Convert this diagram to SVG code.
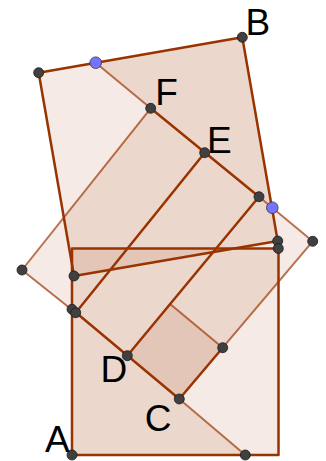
<svg xmlns="http://www.w3.org/2000/svg" width="326" height="461" viewBox="0 0 326 461">
<style>
.fill{fill:#993300;fill-opacity:0.1;stroke:none}
.dk{stroke:#993300;stroke-width:2.5;fill:none;stroke-linecap:round;stroke-linejoin:round}
.lt{stroke:#993300;stroke-opacity:0.68;stroke-width:2;fill:none;stroke-linecap:round}
.pt{fill:#404040;stroke:#1a1a1a;stroke-width:0.8}
.bp{fill:#7474ff;stroke:#333333;stroke-width:0.8}
.lbl{font-family:"Liberation Sans",Arial,sans-serif;font-size:37px;fill:#000}
</style>
<rect width="326" height="461" fill="#ffffff"/>
<g id="fills">
<polygon id="sqT" class="fill" points="38.7,72.7 242.3,37.3 277.7,241 74,276"/>
<polygon id="sqU" class="fill" points="72,248.5 278.5,248.5 278.5,455 72,455"/>
<polygon id="sqR" class="fill" points="22,270 150.7,108.3 312.7,241.3 179.3,399"/>
<polygon id="tri1" class="fill" points="95.7,62.7 242.3,37.3 272.3,207.7"/>
<polygon id="tri2" class="fill" points="72,309.3 72,455 245.3,455"/>
<polygon id="sqS" class="fill" points="127.3,355.7 170.7,304.4 222.7,347.7 179.3,399"/>
</g>
<g id="connectors">
<path class="lt" d="M22,270 L150.7,108.3 M95.7,62.7 L150.7,108.3 M259,196.7 L312.7,241.3 M312.7,241.3 L222.7,347.7 M222.7,347.7 L170.7,304.4 M179.3,399 L245.3,455 M22,270 L75.7,312.7"/>
<polygon class="dk" points="38.7,72.7 242.3,37.3 277.7,241 74,276"/>
<polygon class="dk" points="72,248.5 278.5,248.5 278.5,455 72,455"/>
<path class="dk" d="M150.7,108.3 L259,196.7 M204.7,152.7 L75.7,312.7 M259,196.7 L127.3,355.7 M72,309.3 L179.3,399 L222.7,347.7"/>
</g>
<g id="points">
<circle id="P1" class="pt" cx="38.7" cy="72.7" r="5"/>
<circle id="B" class="pt" cx="242.3" cy="37.3" r="5"/>
<circle id="F" class="pt" cx="150.7" cy="108.3" r="5"/>
<circle id="E" class="pt" cx="204.7" cy="152.7" r="5"/>
<circle id="G" class="pt" cx="259" cy="196.7" r="5"/>
<circle id="P3" class="pt" cx="277.7" cy="241" r="5"/>
<circle id="U3" class="pt" cx="278.3" cy="248.5" r="5"/>
<circle id="Q3" class="pt" cx="312.7" cy="241.3" r="5"/>
<circle id="Q1" class="pt" cx="22" cy="270" r="5"/>
<circle id="P4" class="pt" cx="74" cy="276" r="5"/>
<circle id="I" class="pt" cx="72" cy="309.3" r="5"/>
<circle id="H" class="pt" cx="75.7" cy="312.7" r="5"/>
<circle id="D" class="pt" cx="127.3" cy="355.7" r="5"/>
<circle id="K" class="pt" cx="222.7" cy="347.7" r="5"/>
<circle id="C" class="pt" cx="179.3" cy="399" r="5"/>
<circle id="A" class="pt" cx="72" cy="455" r="5"/>
<circle id="V" class="pt" cx="245.3" cy="455" r="5"/>
<circle id="blue1" class="bp" cx="95.7" cy="62.7" r="5.8"/>
<circle id="blue2" class="bp" cx="272.3" cy="207.7" r="5.8"/>
</g>
<g id="labels">
<text class="lbl" x="245.5" y="35">B</text>
<text class="lbl" x="155.3" y="105">F</text>
<text class="lbl" x="207" y="153.3">E</text>
<text class="lbl" x="100.4" y="381.7">D</text>
<text class="lbl" x="144.8" y="431">C</text>
<text class="lbl" x="45" y="452">A</text>
</g>
</svg>
